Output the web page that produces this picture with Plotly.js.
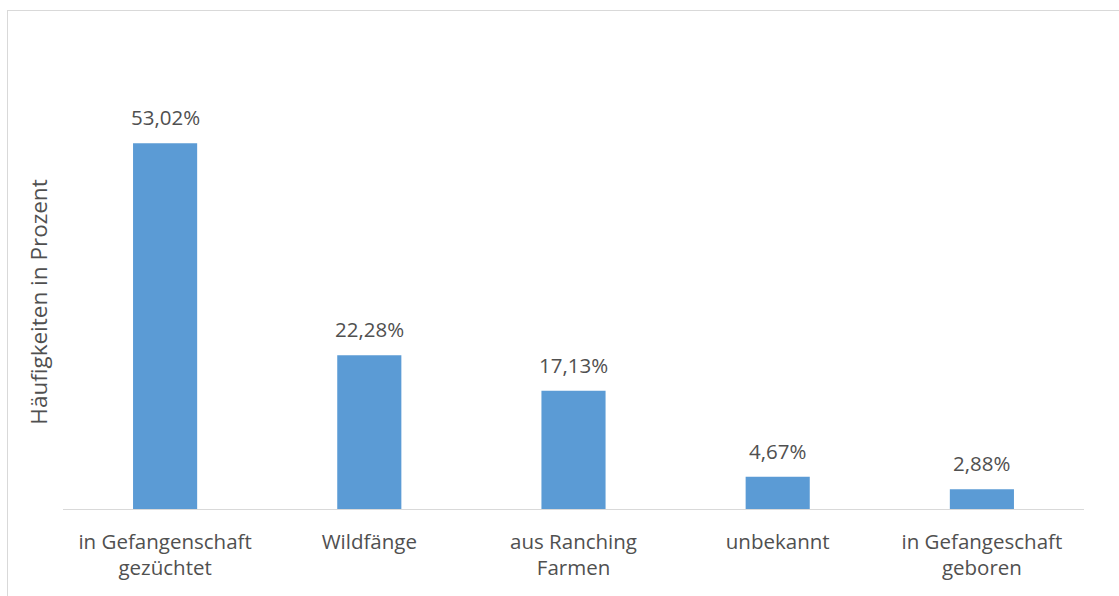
<!DOCTYPE html>
<html>
<head>
<meta charset="utf-8">
<script src="https://cdn.plot.ly/plotly-3.0.1.min.js"></script>
<style>
  html, body { margin: 0; padding: 0; background: #fff; overflow: hidden; }
  #frame { position: absolute; left: 7px; top: 10px; width: 1200px; height: 700px;
           border-left: 1px solid #d9d9d9; border-top: 1px solid #d9d9d9; }
  #chart { position: absolute; left: 0; top: 0; width: 1119px; height: 596px; }
</style>
</head>
<body>
<div id="frame"></div>
<div id="chart"></div>
<script>
const categories = [
  "in Gefangenschaft<br>gezüchtet",
  "Wildfänge",
  "aus Ranching<br>Farmen",
  "unbekannt",
  "in Gefangeschaft<br>geboren"
];
const values = [53.02, 22.28, 17.13, 4.67, 2.88];
const yTitle = "Häufigkeiten in Prozent";

const fontFam = "Open Sans, Noto Sans, sans-serif";
const txtColor = "#505050";

const trace = {
  type: "bar",
  x: categories,
  y: values,
  marker: { color: "#5B9BD5" },
  hoverinfo: "none"
};

const annotations = values.map((v, i) => ({
  x: categories[i],
  y: v,
  xref: "x",
  yref: "y",
  text: v.toFixed(2).replace(".", ",") + "%",
  showarrow: false,
  yanchor: "bottom",
  yshift: 10,
  font: { family: fontFam, size: 20.5, color: txtColor }
}));

const layout = {
  width: 1119,
  height: 596,
  margin: { l: 63, r: 35, t: 95, b: 87 },
  paper_bgcolor: "rgba(0,0,0,0)",
  plot_bgcolor: "rgba(0,0,0,0)",
  bargap: 0.686,
  showlegend: false,
  xaxis: {
    showline: true,
    linecolor: "#d9d9d9",
    linewidth: 1,
    ticks: "",
    showgrid: false,
    zeroline: false,
    ticklabelstandoff: 14,
    tickfont: { family: fontFam, size: 20.5, color: txtColor }
  },
  yaxis: {
    range: [0, 60],
    showgrid: false,
    zeroline: false,
    showline: false,
    showticklabels: false,
    ticks: "",
    title: { text: yTitle, standoff: 8, font: { family: fontFam, size: 22.5, color: txtColor } }
  },
  annotations: annotations
};

Plotly.newPlot("chart", [trace], layout, { displayModeBar: false, staticPlot: true });
</script>
</body>
</html>
